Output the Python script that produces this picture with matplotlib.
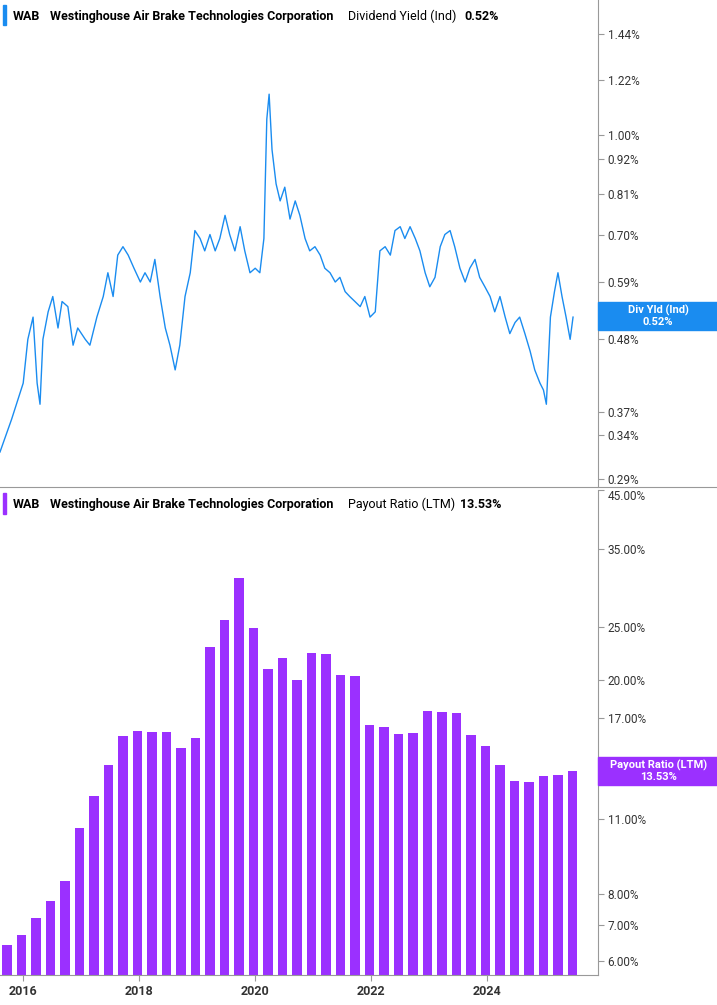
import numpy as np
import matplotlib.pyplot as plt
from matplotlib.ticker import FixedLocator, NullLocator

# dividend yield (%), dates as decimal years
yld_dates = [2015.60, 2015.80, 2016.00, 2016.08, 2016.17, 2016.24, 2016.29, 2016.34, 2016.43,
             2016.51, 2016.60, 2016.67, 2016.77, 2016.86, 2016.94, 2017.07, 2017.15, 2017.27,
             2017.38, 2017.46, 2017.55, 2017.63, 2017.72, 2017.81, 2017.91, 2018.02, 2018.10,
             2018.19, 2018.27, 2018.36, 2018.45, 2018.53, 2018.62, 2018.70, 2018.79, 2018.88,
             2018.96, 2019.05, 2019.13, 2019.22, 2019.31, 2019.39, 2019.48, 2019.56, 2019.65,
             2019.74, 2019.82, 2019.91, 2020.00, 2020.08, 2020.15, 2020.20, 2020.24, 2020.29,
             2020.36, 2020.43, 2020.51, 2020.60, 2020.69, 2020.77, 2020.86, 2020.94, 2021.03,
             2021.12, 2021.20, 2021.29, 2021.38, 2021.46, 2021.55, 2021.63, 2021.72, 2021.81,
             2021.89, 2021.98, 2022.07, 2022.15, 2022.24, 2022.33, 2022.41, 2022.50, 2022.58,
             2022.67, 2022.76, 2022.84, 2022.93, 2023.01, 2023.10, 2023.19, 2023.27, 2023.36,
             2023.44, 2023.53, 2023.62, 2023.70, 2023.79, 2023.87, 2023.96, 2024.05, 2024.13,
             2024.22, 2024.31, 2024.39, 2024.48, 2024.56, 2024.65, 2024.74, 2024.82, 2024.91,
             2024.97, 2025.02, 2025.09, 2025.16, 2025.22, 2025.29, 2025.36, 2025.43, 2025.48]
yld_vals = [0.32, 0.36, 0.41, 0.48, 0.52, 0.41, 0.38, 0.48, 0.53, 0.56, 0.50, 0.55, 0.54, 0.47,
            0.50, 0.48, 0.47, 0.52, 0.56, 0.61, 0.56, 0.65, 0.67, 0.65, 0.62, 0.59, 0.61, 0.59,
            0.64, 0.56, 0.50, 0.47, 0.43, 0.47, 0.56, 0.61, 0.71, 0.69, 0.66, 0.70, 0.66, 0.69,
            0.75, 0.70, 0.66, 0.72, 0.66, 0.61, 0.62, 0.61, 0.69, 1.06, 1.16, 0.95, 0.84, 0.79,
            0.83, 0.74, 0.79, 0.75, 0.69, 0.66, 0.67, 0.65, 0.62, 0.61, 0.59, 0.60, 0.57, 0.56,
            0.55, 0.54, 0.56, 0.52, 0.53, 0.66, 0.67, 0.65, 0.71, 0.72, 0.69, 0.72, 0.69, 0.66,
            0.61, 0.58, 0.60, 0.67, 0.70, 0.71, 0.67, 0.62, 0.59, 0.62, 0.64, 0.60, 0.58, 0.56,
            0.53, 0.56, 0.52, 0.49, 0.51, 0.52, 0.49, 0.46, 0.43, 0.41, 0.40, 0.38, 0.52, 0.57,
            0.61, 0.56, 0.52, 0.48, 0.52]

# payout ratio (%), quarterly
pay_dates = [2015.72 + 0.25 * i for i in range(40)]
pay_vals = [6.42, 6.71, 7.21, 7.76, 8.45, 10.6, 12.16, 13.9, 15.7, 16.06,
            16.0, 16.0, 14.9, 15.6, 23.0, 25.8, 30.9, 24.95, 20.9, 21.9,
            19.97, 22.4, 22.3, 20.4, 20.3, 16.5, 16.3, 15.85, 15.9, 17.5,
            17.4, 17.35, 15.8, 15.06, 13.9, 12.96, 12.9, 13.25, 13.3, 13.53]

yld_ticks = [0.29, 0.34, 0.37, 0.48, 0.59, 0.70, 0.81, 0.92, 1.00, 1.22, 1.44]
pay_ticks = [6, 7, 8, 11, 17, 20, 25, 35, 45]
years = [2016, 2018, 2020, 2022, 2024]

BLUE = "#1a8cf0"
PURPLE = "#9b30ff"
plt.rcParams["font.family"] = "Roboto"

fig = plt.figure(figsize=(7.17, 10.05), dpi=100)
ax1 = fig.add_axes([0, 0.515, 0.834, 0.485])
ax2 = fig.add_axes([0, 0.0299, 0.834, 0.4825])

for ax in (ax1, ax2):
    ax.set_yscale("log")
    ax.set_xlim(2015.6, 2025.91)
    ax.yaxis.tick_right()
    ax.yaxis.set_minor_locator(NullLocator())
    ax.tick_params(axis="y", length=4, color="#999999", labelsize=8.5, labelcolor="#333333", pad=3)
    for s in ("left", "top"):
        ax.spines[s].set_visible(False)
    ax.spines["right"].set_color("#999999")
    ax.spines["bottom"].set_color("#999999")

ax1.plot(yld_dates, yld_vals, color=BLUE, lw=1)
ax1.set_ylim(0.2817, 1.628)
ax1.yaxis.set_major_locator(FixedLocator(yld_ticks))
ax1.set_yticklabels([f"{t:.2f}%" for t in yld_ticks])
ax1.set_xticks([])
ax1.spines["bottom"].set_visible(False)
# separator line across the full width
fig.add_artist(plt.Line2D([0, 1], [1 - 487 / 1005] * 2, color="#999999", lw=0.8))

ax2.bar(pay_dates, pay_vals, width=0.17, color=PURPLE)
ax2.set_ylim(5.65, 45)
ax2.yaxis.set_major_locator(FixedLocator(pay_ticks))
ax2.set_yticklabels([f"{t:.2f}%" for t in pay_ticks])
for lbl in ax2.get_yticklabels():
    if lbl.get_text() == "45.00%":
        lbl.set_va("top")
ax2.set_xticks(years)
ax2.set_xticklabels([str(y) for y in years], fontsize=9, fontweight="bold", color="#333333")
ax2.tick_params(axis="x", length=4, color="#999999")

# headers
def header(y, color, metric, metric_x, val, val_x):
    fig.patches.append(plt.Rectangle((0.004, y - 0.009), 0.004, 0.02, transform=fig.transFigure,
                                     color=color, zorder=5))
    fig.text(0.018, y, "WAB", fontsize=9, fontweight="bold", va="center")
    fig.text(0.07, y, "Westinghouse Air Brake Technologies Corporation", fontsize=9,
             fontweight="bold", va="center")
    fig.text(metric_x, y, metric, fontsize=9, va="center")
    fig.text(val_x, y, val, fontsize=9, fontweight="bold", va="center")

header(0.984, BLUE, "Dividend Yield (Ind)", 0.485, "0.52%", 0.648)
header(0.498, PURPLE, "Payout Ratio (LTM)", 0.485, "13.53%", 0.641)

# right-side value labels
fig.patches.append(plt.Rectangle((0.834, 1 - 330 / 1005), 0.166, 28 / 1005,
                                 transform=fig.transFigure, color=BLUE, zorder=0))
fig.text(0.918, 1 - 316 / 1005, "Div Yld (Ind)\n0.52%", ha="center", va="center", fontsize=8,
         fontweight="bold", color="white", linespacing=1.1)
fig.patches.append(plt.Rectangle((0.834, 1 - 785 / 1005), 0.166, 28 / 1005,
                                 transform=fig.transFigure, color=PURPLE, zorder=0))
fig.text(0.918, 1 - 771 / 1005, "Payout Ratio (LTM)\n13.53%", ha="center", va="center",
         fontsize=8, fontweight="bold", color="white", linespacing=1.1)

fig.savefig("out.png", dpi=100)
